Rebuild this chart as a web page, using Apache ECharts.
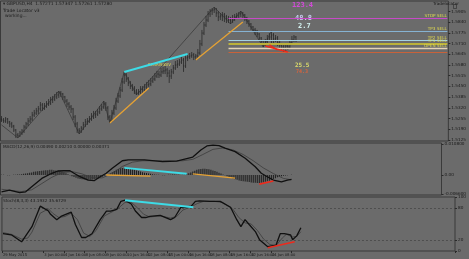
<!DOCTYPE html>
<html><head><meta charset="utf-8">
<script src="https://cdn.jsdelivr.net/npm/echarts@6/dist/echarts.min.js"></script>
<style>html,body{margin:0;padding:0;background:#6b6b6b;overflow:hidden}#c{width:469px;height:259px;}</style>
</head><body><div id="c"></div>
<script>
// ---------- DATA ----------
const opens = [1.5252,
1.5246,1.5240,1.5252,1.5234,1.5222,1.5209,1.5185,1.5155,1.5149,
1.5167,1.5179,1.5203,1.5222,1.5240,1.5252,1.5276,1.5288,1.5301,1.5313,
1.5337,1.5319,1.5331,1.5343,1.5349,1.5367,1.5373,1.5386,1.5398,1.5410,
1.5404,1.5386,1.5361,1.5343,1.5325,1.5313,1.5264,1.5222,1.5185,1.5179,
1.5197,1.5216,1.5234,1.5240,1.5252,1.5264,1.5276,1.5282,1.5295,1.5313,
1.5325,1.5343,1.5319,1.5264,1.5240,1.5288,1.5319,1.5361,1.5392,1.5428,
1.5477,1.5519,1.5495,1.5471,1.5452,1.5440,1.5422,1.5410,1.5416,1.5434,
1.5428,1.5446,1.5459,1.5465,1.5483,1.5495,1.5513,1.5525,1.5519,1.5538,
1.5544,1.5550,1.5531,1.5513,1.5538,1.5562,1.5580,1.5586,1.5598,1.5610,
1.5574,1.5623,1.5629,1.5635,1.5641,1.5629,1.5635,1.5653,1.5708,1.5774,
1.5823,1.5853,1.5890,1.5908,1.5914,1.5920,1.5896,1.5872,1.5878,1.5884,
1.5872,1.5860,1.5853,1.5847,1.5860,1.5872,1.5878,1.5890,1.5896,1.5884,
1.5866,1.5847,1.5829,1.5811,1.5793,1.5787,1.5768,1.5744,1.5726,1.5708,
1.5720,1.5738,1.5750,1.5762,1.5738,1.5744,1.5714,1.5702,1.5689,1.5683,
1.5695,1.5689,1.5714,1.5732,1.5750];
const highs = [1.5270,1.5258,1.5264,1.5258,1.5240,1.5234,1.5216,1.5191,1.5167,1.5179,
1.5191,1.5216,1.5234,1.5258,1.5270,1.5295,1.5307,1.5319,1.5331,1.5355,
1.5349,1.5349,1.5361,1.5373,1.5386,1.5392,1.5404,1.5416,1.5422,1.5422,
1.5410,1.5392,1.5373,1.5355,1.5337,1.5319,1.5276,1.5234,1.5197,1.5209,
1.5234,1.5252,1.5258,1.5270,1.5288,1.5301,1.5301,1.5313,1.5331,1.5343,
1.5361,1.5355,1.5331,1.5276,1.5307,1.5337,1.5380,1.5410,1.5446,1.5501,
1.5538,1.5531,1.5507,1.5483,1.5465,1.5452,1.5434,1.5434,1.5452,1.5452,
1.5465,1.5477,1.5489,1.5501,1.5513,1.5531,1.5544,1.5544,1.5562,1.5568,
1.5574,1.5562,1.5550,1.5556,1.5580,1.5604,1.5610,1.5616,1.5629,1.5623,
1.5641,1.5647,1.5653,1.5659,1.5653,1.5647,1.5677,1.5732,1.5793,1.5841,
1.5878,1.5908,1.5920,1.5926,1.5932,1.5926,1.5908,1.5896,1.5902,1.5896,
1.5884,1.5878,1.5872,1.5884,1.5890,1.5896,1.5902,1.5908,1.5902,1.5890,
1.5872,1.5853,1.5835,1.5817,1.5805,1.5793,1.5774,1.5750,1.5732,1.5738,
1.5762,1.5774,1.5787,1.5774,1.5762,1.5756,1.5726,1.5714,1.5708,1.5714,
1.5714,1.5732,1.5756,1.5762,1.5756];
const lows = [1.5234,1.5228,1.5228,1.5222,1.5203,1.5197,1.5173,1.5137,1.5137,1.5143,
1.5155,1.5167,1.5191,1.5209,1.5228,1.5240,1.5264,1.5276,1.5282,1.5301,
1.5301,1.5307,1.5319,1.5331,1.5337,1.5349,1.5361,1.5373,1.5380,1.5386,
1.5367,1.5349,1.5325,1.5307,1.5288,1.5246,1.5203,1.5167,1.5161,1.5167,
1.5185,1.5203,1.5216,1.5228,1.5240,1.5252,1.5258,1.5270,1.5282,1.5301,
1.5313,1.5301,1.5246,1.5228,1.5234,1.5276,1.5307,1.5349,1.5380,1.5416,
1.5465,1.5477,1.5452,1.5434,1.5422,1.5404,1.5398,1.5398,1.5404,1.5410,
1.5416,1.5434,1.5446,1.5452,1.5471,1.5483,1.5501,1.5501,1.5507,1.5525,
1.5525,1.5507,1.5471,1.5495,1.5525,1.5550,1.5562,1.5574,1.5586,1.5538,
1.5562,1.5604,1.5616,1.5623,1.5610,1.5610,1.5623,1.5641,1.5695,1.5762,
1.5811,1.5841,1.5872,1.5884,1.5896,1.5872,1.5847,1.5853,1.5847,1.5841,
1.5835,1.5835,1.5829,1.5835,1.5847,1.5860,1.5866,1.5872,1.5866,1.5847,
1.5829,1.5811,1.5793,1.5781,1.5762,1.5750,1.5726,1.5708,1.5689,1.5695,
1.5708,1.5726,1.5702,1.5708,1.5720,1.5695,1.5677,1.5665,1.5659,1.5665,
1.5671,1.5683,1.5702,1.5720,1.5720];
const closes = [1.5246,1.5240,1.5252,1.5234,1.5222,1.5209,1.5185,1.5155,1.5149,1.5167,
1.5179,1.5203,1.5222,1.5240,1.5252,1.5276,1.5288,1.5301,1.5313,1.5337,
1.5319,1.5331,1.5343,1.5349,1.5367,1.5373,1.5386,1.5398,1.5410,1.5404,
1.5386,1.5361,1.5343,1.5325,1.5313,1.5264,1.5222,1.5185,1.5179,1.5197,
1.5216,1.5234,1.5240,1.5252,1.5264,1.5276,1.5282,1.5295,1.5313,1.5325,
1.5343,1.5319,1.5264,1.5240,1.5288,1.5319,1.5361,1.5392,1.5428,1.5477,
1.5519,1.5495,1.5471,1.5452,1.5440,1.5422,1.5410,1.5416,1.5434,1.5428,
1.5446,1.5459,1.5465,1.5483,1.5495,1.5513,1.5525,1.5519,1.5538,1.5544,
1.5550,1.5531,1.5513,1.5538,1.5562,1.5580,1.5586,1.5598,1.5610,1.5574,
1.5623,1.5629,1.5635,1.5641,1.5629,1.5635,1.5653,1.5708,1.5774,1.5823,
1.5853,1.5890,1.5908,1.5914,1.5920,1.5896,1.5872,1.5878,1.5884,1.5872,
1.5860,1.5853,1.5847,1.5860,1.5872,1.5878,1.5890,1.5896,1.5884,1.5866,
1.5847,1.5829,1.5811,1.5793,1.5787,1.5768,1.5744,1.5726,1.5708,1.5720,
1.5738,1.5750,1.5762,1.5738,1.5744,1.5714,1.5702,1.5689,1.5683,1.5695,
1.5689,1.5714,1.5732,1.5750,1.5728];

const priceTicks = [1.5905,1.5840,1.5775,1.5710,1.5645,1.5580,1.5515,1.5450,1.5385,1.5320,1.5255,1.5190,1.5125];
const lastPrice = 1.5728;
const dateLabels = ["29 May 2015","1 Jun 08:00","3 Jun 00:00","4 Jun 16:00","8 Jun 08:00","9 Jun 00:00","10 Jun 16:00","12 Jun 08:00","15 Jun 00:00","16 Jun 16:00","18 Jun 08:00","19 Jun 16:00","22 Jun 16:00","24 Jun 08:00","25 Jun 00:00"];

const zigzag = [[0,1.5216],[8,1.5137],[28,1.5422],[38,1.5161],[50,1.5361],[53,1.5228],[60,1.5538],[66,1.5398],[104,1.5932],[112,1.5829],[117,1.5908],[128,1.5689],[132,1.5787]];
const cyanMain = [[60,1.5538],[91,1.5647]];
const orangeMain1 = [[53,1.5228],[72,1.5440]];
const orangeMain2 = [[95,1.5610],[118,1.5841]];
const redMain1 = [[129,1.5695],[140,1.5659]];
const redMain2 = [[131,1.5702],[135,1.5671]];
const levelStart = 111, levelEnd = 218;
const levelPrices = [1.5864,1.5782,1.5732,1.5711,1.5683,1.5655];
const levelNames = ["STOP SELL","TP3 SELL","TP2 SELL","TP1 SELL","OPEN SELL",""];

const macdMain = [[0,-0.0059],[4,-0.0053],[9,-0.0062],[12,-0.0059],[15,-0.0041],[20,-0.0012],[25,0.0006],[28,0.0014],[31,0.0015],[34,0.0015],[36,0.0006],[39,-0.0006],[43,-0.0018],[46,-0.0020],[49,-0.0006],[52,0.0006],[55,0.0024],[60,0.0050],[63,0.0053],[71,0.0053],[80,0.0047],[87,0.0049],[95,0.0063],[99,0.0088],[102,0.0102],[105,0.0105],[108,0.0103],[111,0.0094],[116,0.0082],[121,0.0059],[126,0.0029],[129,0.0006],[132,-0.0006],[135,-0.0018],[139,-0.0024],[142,-0.0018],[144,-0.0015]];
const macdSignal = [[0,-0.0050],[5,-0.0055],[10,-0.0058],[15,-0.0052],[20,-0.0030],[25,-0.0008],[30,0.0008],[35,0.0012],[40,0.0004],[45,-0.0010],[50,-0.0010],[55,0.0005],[60,0.0030],[65,0.0045],[70,0.0050],[80,0.0050],[90,0.0050],[95,0.0055],[100,0.0072],[105,0.0090],[110,0.0095],[115,0.0088],[120,0.0072],[125,0.0050],[130,0.0025],[135,0.0005],[140,-0.0012],[144,-0.0017]];
const macdHist = [0.0001,0.0001,0,-0.0001,-0.0001,0,0.0001,0.0001,0.0002,0.0002,
0.0003,0.0004,0.0005,0.0006,0.0008,0.0009,0.0011,0.0012,0.0013,0.0014,
0.0015,0.0016,0.0017,0.0017,0.0018,0.0018,0.0017,0.0016,0.0015,0.0013,
0.0011,0.0009,0.0006,0.0003,-0.0001,-0.0004,-0.0007,-0.0010,-0.0012,-0.0014,
-0.0015,-0.0016,-0.0016,-0.0017,-0.0017,-0.0016,-0.0015,-0.0013,-0.0011,-0.0009,
-0.0006,-0.0003,-0.0001,0.0002,0.0006,0.0010,0.0014,0.0018,0.0021,0.0024,
0.0025,0.0025,0.0024,0.0023,0.0022,0.0020,0.0018,0.0016,0.0014,0.0012,
0.0010,0.0008,0.0007,0.0005,0.0004,0.0003,0.0002,0.0001,0.0001,0,
-0.0001,-0.0001,0,0.0001,0.0001,0.0002,0.0002,0.0001,0.0001,0,
0.0001,0.0002,0.0004,0.0006,0.0009,0.0012,0.0015,0.0018,0.0020,0.0021,
0.0022,0.0022,0.0021,0.0020,0.0018,0.0016,0.0014,0.0011,0.0008,0.0005,
0.0002,-0.0001,-0.0004,-0.0007,-0.0010,-0.0013,-0.0015,-0.0017,-0.0019,-0.0021,
-0.0022,-0.0023,-0.0024,-0.0025,-0.0026,-0.0027,-0.0027,-0.0028,-0.0028,-0.0027,
-0.0026,-0.0024,-0.0022,-0.0020,-0.0017,-0.0014,-0.0011,-0.0008,-0.0006,-0.0004,
-0.0003,-0.0002,-0.0001,0,0.0001];
const macdTicks = [0.0108,0,-0.0066];
const macdOrange1 = [[52,0],[74,-0.0004]];
const macdCyan = [[61,0.0025],[92,0.0004]];
const macdOrange2 = [[95,0.0004],[116,-0.0011]];
const macdRed = [[128,-0.0032],[135,-0.0021]];

const stochMain = [[0,32],[4,30],[9,17],[14,45],[18,83],[22,74],[23,68],[26,58],[28,64],[33,72],[35,49],[38,25],[40,25],[43,32],[47,58],[50,74],[52,74],[55,77],[57,92],[59,94],[62,87],[64,74],[67,62],[69,62],[71,64],[76,66],[81,58],[83,62],[86,81],[88,81],[91,83],[93,92],[95,93],[100,92],[105,92],[110,81],[113,58],[115,45],[117,58],[119,49],[122,36],[124,21],[127,11],[128,8],[132,11],[134,32],[136,32],[139,30],[140,21],[142,28],[144,43.19]];
const stochSignal = [[0,34],[4,31],[9,22],[12,24],[14,35],[18,70],[22,78],[24,70],[27,62],[30,64],[33,70],[36,58],[39,33],[42,27],[45,38],[49,65],[53,73],[56,80],[59,90],[62,90],[65,80],[68,68],[71,63],[76,65],[81,61],[84,64],[87,76],[91,82],[94,88],[97,92],[102,92],[106,90],[111,78],[114,62],[117,52],[120,50],[123,38],[126,22],[129,12],[132,10],[135,24],[137,31],[140,26],[142,27],[144,35.67]];
const stochTicks = [100,80,20,0];
const stochLevels = [80,20];
const stochCyan = [[59,94],[92,81]];
const stochRed = [[128,6],[141,17]];

// ---------- CHART ----------
const nCats = 219;
const cats = []; for (let i = 0; i < nCats; i++) cats.push(String(i));
const ohlc = closes.map((c, i) => [i, opens[i], c, lows[i], highs[i]]);

const TXT = '#1b1b1b', FONT = 'DejaVu Sans';
const chart = echarts.init(document.getElementById('c'), null, {renderer: 'canvas'});

function renderBar(params, api) {
  const i = api.value(0);
  const o = api.coord([i, api.value(1)]);
  const c = api.coord([i, api.value(2)]);
  const l = api.coord([i, api.value(3)]);
  const h = api.coord([i, api.value(4)]);
  const x = o[0];
  const st = {stroke: '#1e1e1e', lineWidth: 0.7};
  return {type: 'group', children: [
    {type: 'line', shape: {x1: x, y1: h[1], x2: x, y2: l[1]}, style: st},
    {type: 'line', shape: {x1: x - 0.7, y1: o[1], x2: x, y2: o[1]}, style: st},
    {type: 'line', shape: {x1: x, y1: c[1], x2: x + 0.7, y2: c[1]}, style: st}
  ]};
}

function seg(data, color, width, xi, yi, z) {
  return {type: 'line', data: data, xAxisIndex: xi, yAxisIndex: yi, symbol: 'none', silent: true,
    lineStyle: {color: color, width: width}, z: z || 5, animation: false};
}

const levelColors = ['#c84ac8','#86b2d2','#a6d2e2','#bcb23a','#e4d4b6','#c8623a'];
const levelWidths = [1.2,1.2,1.2,2,1.4,1.2];

const axisTxt = {fontSize: 4.2, color: TXT, fontFamily: FONT};

const option = {
  backgroundColor: '#6b6b6b',
  animation: false,
  grid: [
    {left: 0.5, right: 13, top: 1, height: 140, show: true, borderColor: '#3a3a3a', borderWidth: 1},
    {left: 0.5, right: 13, top: 143, height: 52, show: true, borderColor: '#3a3a3a', borderWidth: 1},
    {left: 0.5, right: 13, top: 197, height: 54, show: true, borderColor: '#3a3a3a', borderWidth: 1}
  ],
  xAxis: [
    {type: 'category', data: cats, gridIndex: 0, boundaryGap: true, axisLine: {show: false}, axisTick: {show: false}, axisLabel: {show: false}},
    {type: 'category', data: cats, gridIndex: 1, boundaryGap: true, axisLine: {show: false}, axisTick: {show: false}, axisLabel: {show: false}},
    {type: 'category', data: cats, gridIndex: 2, boundaryGap: true, axisLine: {show: false},
      axisTick: {show: true, length: 2, interval: (idx) => idx % 10 === 0 && idx <= 140, lineStyle: {color: '#2a2a2a'}},
      axisLabel: Object.assign({show: true, margin: 2, align: 'left', hideOverlap: false, showMinLabel: true,
        interval: (idx) => idx % 10 === 0 && idx <= 140,
        formatter: (v, idx) => dateLabels[idx / 10] || ''}, axisTxt, {fontSize: 3.7})}
  ],
  yAxis: [
    {type: 'value', gridIndex: 0, position: 'right', min: 1.51183, max: 1.59688, scale: true,
      splitLine: {show: false}, axisLine: {show: false},
      axisTick: {show: true, length: 2, customValues: priceTicks, lineStyle: {color: '#2a2a2a'}},
      axisLabel: Object.assign({margin: 3, customValues: priceTicks, formatter: (v) => v.toFixed(4)}, axisTxt)},
    {type: 'value', gridIndex: 1, position: 'right', min: -0.00702, max: 0.011232,
      splitLine: {show: false}, axisLine: {show: false},
      axisTick: {show: true, length: 2, customValues: macdTicks, lineStyle: {color: '#2a2a2a'}},
      axisLabel: Object.assign({margin: 3, customValues: macdTicks, formatter: (v) => v === 0 ? '0.00' : v.toFixed(6)}, axisTxt)},
    {type: 'value', gridIndex: 2, position: 'right', min: 0, max: 100,
      splitLine: {show: false}, axisLine: {show: false},
      axisTick: {show: true, length: 2, customValues: stochTicks, lineStyle: {color: '#2a2a2a'}},
      axisLabel: Object.assign({margin: 3, customValues: stochTicks, formatter: (v) => String(v)}, axisTxt)}
  ],
  series: [
    {type: 'custom', xAxisIndex: 0, yAxisIndex: 0, data: ohlc, renderItem: renderBar, clip: true,
      encode: {x: 0, y: [1, 2, 3, 4]}, z: 3,
      markLine: {silent: true, symbol: 'none', animation: false,
        lineStyle: {opacity: 0},
        data: [{yAxis: lastPrice, label: {show: true, position: 'end', distance: 1, formatter: lastPrice.toFixed(5),
          backgroundColor: '#000', color: '#fff', fontSize: 4.4, fontFamily: FONT, padding: [1, 1, 0, 1]}}]}},
    seg(zigzag, '#2b2b2b', 0.6, 0, 0, 4),
    seg(cyanMain, '#3ddbe6', 2, 0, 0, 6),
    seg(orangeMain1, '#e6a234', 1.3, 0, 0, 6),
    seg(orangeMain2, '#e6a234', 1.3, 0, 0, 6),
    seg(redMain1, '#ee2a1c', 1.6, 0, 0, 7),
    seg(redMain2, '#ee2a1c', 1.3, 0, 0, 7),
    {type: 'line', xAxisIndex: 0, yAxisIndex: 0, data: [], silent: true,
      markLine: {silent: true, symbol: 'none', animation: false,
        data: levelPrices.map((p, k) => [
          {coord: [levelStart, p], lineStyle: {color: levelColors[k], width: levelWidths[k], type: 'solid'},
            label: {show: levelNames[k] !== '', position: 'insideEndTop', formatter: levelNames[k], distance: 0.5,
              color: '#e2dc4e', fontSize: 4.2, fontFamily: FONT}},
          {coord: [levelEnd, p]}])}},
    {type: 'bar', xAxisIndex: 1, yAxisIndex: 1, data: macdHist, barWidth: 0.8, itemStyle: {color: '#1a1a1a'}, silent: true},
    seg(macdSignal, '#3c3c3c', 0.8, 1, 1, 4),
    seg(macdMain, '#101010', 1.3, 1, 1, 5),
    seg(macdOrange1, '#e6a234', 1.3, 1, 1, 6),
    seg(macdCyan, '#3ddbe6', 2, 1, 1, 6),
    seg(macdOrange2, '#e6a234', 1.3, 1, 1, 6),
    seg(macdRed, '#ee2a1c', 1.6, 1, 1, 6),
    {type: 'line', xAxisIndex: 2, yAxisIndex: 2, data: [], silent: true,
      markLine: {silent: true, symbol: 'none', animation: false, label: {show: false},
        lineStyle: {color: '#474747', type: [2, 2], width: 0.8},
        data: stochLevels.map(v => ({yAxis: v}))}},
    seg(stochSignal, '#3c3c3c', 0.8, 2, 2, 4),
    seg(stochMain, '#101010', 1.3, 2, 2, 5),
    seg(stochCyan, '#3ddbe6', 2, 2, 2, 6),
    seg(stochRed, '#ee2a1c', 1.6, 2, 2, 6)
  ],
  graphic: [
    {type: 'text', left: 3, top: 1.5, style: {text: '\u25BE GBPUSD,H4  1.57271 1.57347 1.57261 1.57280', fill: TXT, font: '4.4px "DejaVu Sans"'}},
    {type: 'text', left: 3, top: 9, style: {text: 'Trade Locator v3', fill: TXT, font: '4.4px "DejaVu Sans"'}},
    {type: 'text', left: 5, top: 14, style: {text: 'working...', fill: TXT, font: '4.4px "DejaVu Sans"'}},
    {type: 'text', left: 433, top: 2, style: {text: 'Tradelocator', fill: TXT, font: '4.2px "DejaVu Sans"'}},
    {type: 'rect', left: 451, top: 2, shape: {width: 3, height: 4}, style: {fill: 'none', stroke: '#2a2a2a', lineWidth: 0.6}},
    {type: 'text', left: 148, top: 63, style: {text: 'BEARISH', fill: '#d8d45a', font: '4px "DejaVu Sans"'}},
    {type: 'text', left: 164, top: 63, style: {text: 'DIV', fill: '#d8d45a', font: '4px "DejaVu Sans"'}},
    {type: 'text', left: 292, top: 2, style: {text: '123.4', fill: '#d24ad8', font: 'bold 7px "DejaVu Sans Mono"'}},
    {type: 'text', left: 295, top: 15, style: {text: '48.8', fill: '#c8ccf0', font: 'bold 7px "DejaVu Sans Mono"'}},
    {type: 'text', left: 298, top: 23, style: {text: '2.7', fill: '#d2f0ee', font: 'bold 7px "DejaVu Sans Mono"'}},
    {type: 'text', left: 295, top: 62, style: {text: '25.5', fill: '#dcdc6a', font: 'bold 6px "DejaVu Sans Mono"'}},
    {type: 'text', left: 296, top: 69.5, style: {text: '74.3', fill: '#d8643c', font: 'bold 5px "DejaVu Sans Mono"'}},
    {type: 'text', left: 3, top: 144.5, style: {text: 'MACD(12,26,9) 0.00490 0.00210 0.00000 0.00371', fill: TXT, font: '4.2px "DejaVu Sans"'}},
    {type: 'text', left: 3, top: 198.5, style: {text: 'Stoch(8,3,3) 43.1932 35.6729', fill: TXT, font: '4.2px "DejaVu Sans"'}}
  ]
};
chart.setOption(option);
</script>
</body></html>
